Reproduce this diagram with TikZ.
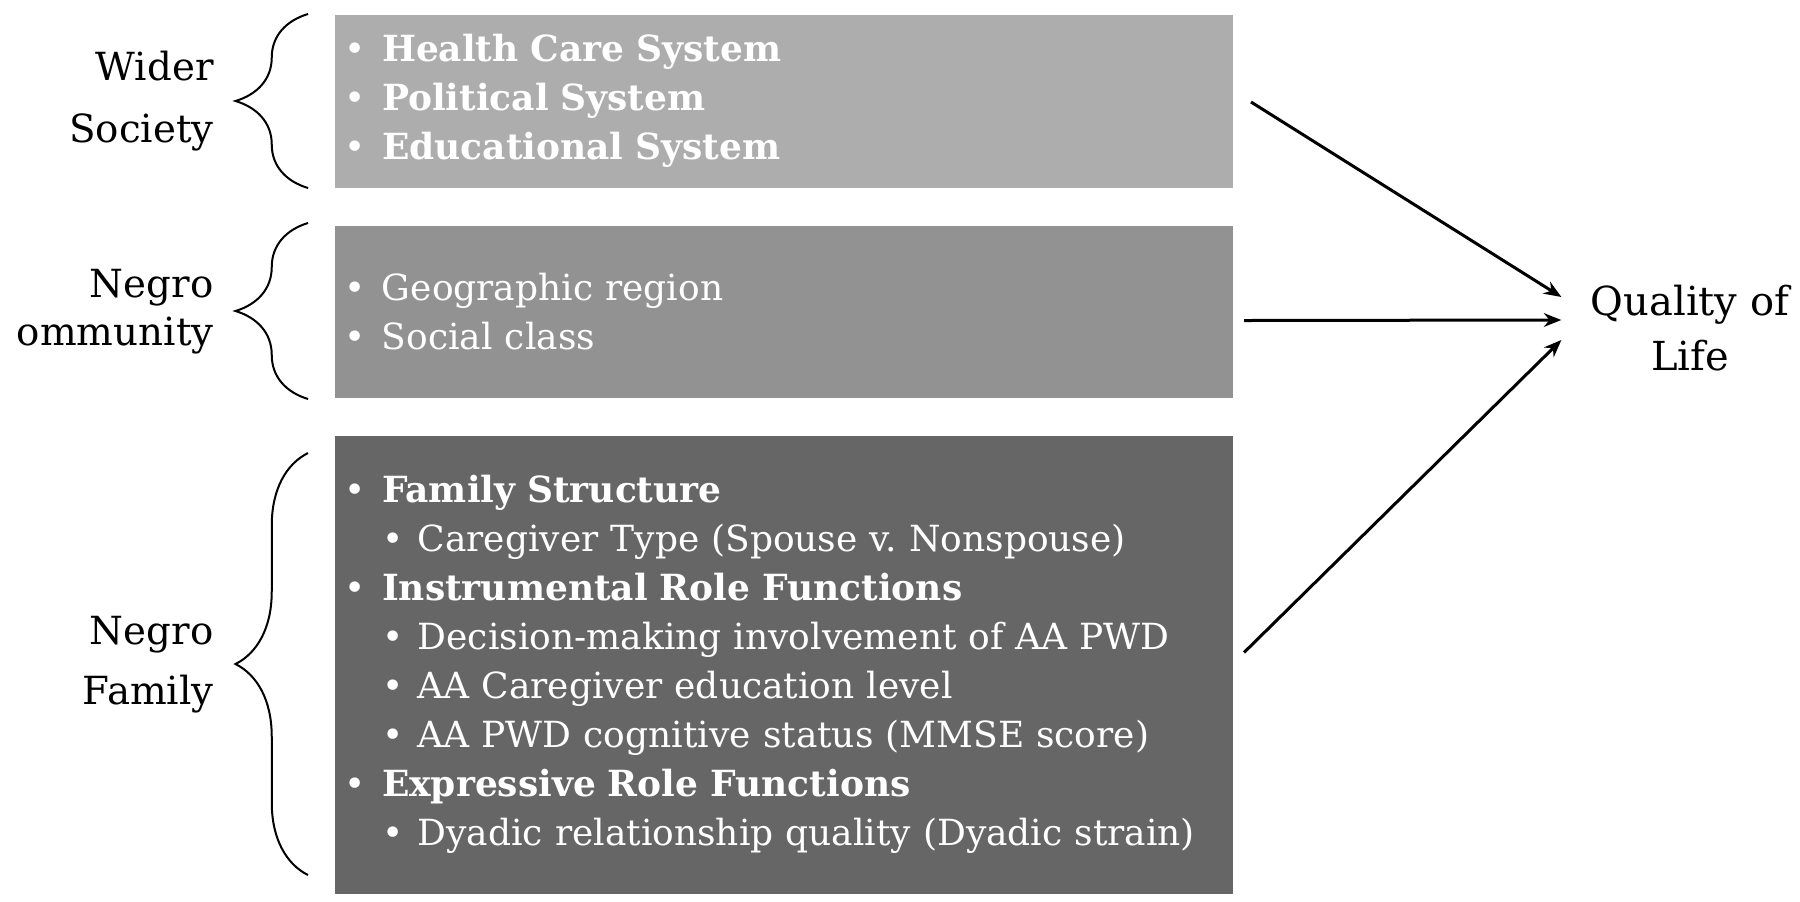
\documentclass[tikz,border=0pt]{standalone}
\usepackage{fontspec}
\setmainfont{DejaVu Serif}
\usepackage{tikz}
\usetikzlibrary{arrows.meta, positioning, calc, decorations.pathreplacing}
\definecolor{wider}{HTML}{ADADAD}
\definecolor{comm}{HTML}{929292}
\definecolor{fam}{HTML}{666666}
\newcommand{\Item}[1]{\makebox[15pt][l]{\textbullet}#1}
\newcommand{\SubItem}[1]{\hspace{15pt}\makebox[14.3pt][l]{\textbullet}#1}
\tikzset{
    box/.style={rectangle, minimum width=359.2pt, text width=351.2pt, inner xsep=4pt, inner ysep=0pt,
        align=left, text=white, font=\fontsize{14.4}{19.6}\selectfont},
    side/.style={inner sep=0pt, align=right, font=\fontsize{15.5}{24.8}\selectfont},
    lbrace/.style={decorate, decoration={brace, amplitude=29pt}, line width=0.8pt},
    flow/.style={-{Stealth[length=7pt, width=5.5pt]}, line width=1.2pt},
}
\begin{document}
\begin{tikzpicture}[x=0.4pt, y=-0.4pt, node distance=14.8pt]
    \useasboundingbox (0,0) rectangle (1800,901);

    \node[box, fill=wider, minimum height=69.2pt, anchor=north west] (b0) at (334,14)
        {\Item{\textbf{Health Care System}}\\
         \Item{\textbf{Political System}}\\
         \Item{\textbf{Educational System}}};
    \node[box, fill=comm, minimum height=68.8pt, below=of b0] (b1)
        {\Item{Geographic region}\\
         \Item{Social class}};
    \node[box, fill=fam, minimum height=183.2pt, below=of b1] (b2)
        {\Item{\textbf{Family Structure}}\\
         \SubItem{Caregiver Type (Spouse v.\ Nonspouse)}\\
         \Item{\textbf{Instrumental Role Functions}}\\
         \SubItem{Decision-making involvement of AA PWD}\\
         \SubItem{AA Caregiver education level}\\
         \SubItem{AA PWD cognitive status (MMSE score)}\\
         \Item{\textbf{Expressive Role Functions}}\\
         \SubItem{Dyadic relationship quality (Dyadic strain)}};

    \node[side, left=48pt of b0] (l0) {Wider\\Society};
    \node[side, left=48pt of b1, font=\fontsize{15.5}{19}\selectfont] (l1) {Negro\\ommunity};
    \node[side, left=48pt of b2, font=\fontsize{15.5}{24}\selectfont] (l2) {Negro\\Family};

    \draw[lbrace] ($(b0.south west)+(-26,0)$) -- ($(b0.north west)+(-26,0)$);
    \draw[lbrace] ($(b1.south west)+(-26,1)$) -- ($(b1.north west)+(-26,-2)$);
    \draw[lbrace] ($(b2.south west)+(-26,-19)$) -- ($(b2.north west)+(-26,18)$);

    \node[inner sep=0pt, align=center, font=\fontsize{16}{22}\selectfont] (qol) at (1690,328) {Quality of\\Life};

    \coordinate (w0) at ($(b0.east)+(18,1)$);
    \coordinate (w1) at ($(b1.east)+(11,9)$);
    \coordinate (w2) at ($(b2.east)+(11,-12)$);
    \coordinate (q0) at ($(qol.west)+(-29,-31)$);
    \coordinate (q1) at ($(qol.west)+(-29,-8)$);
    \coordinate (q2) at ($(qol.west)+(-29,12)$);

    \draw[flow] (w0) -- (q0);
    \draw[flow] (w1) -- (q1);
    \draw[flow] (w2) -- (q2);
\end{tikzpicture}
\end{document}
